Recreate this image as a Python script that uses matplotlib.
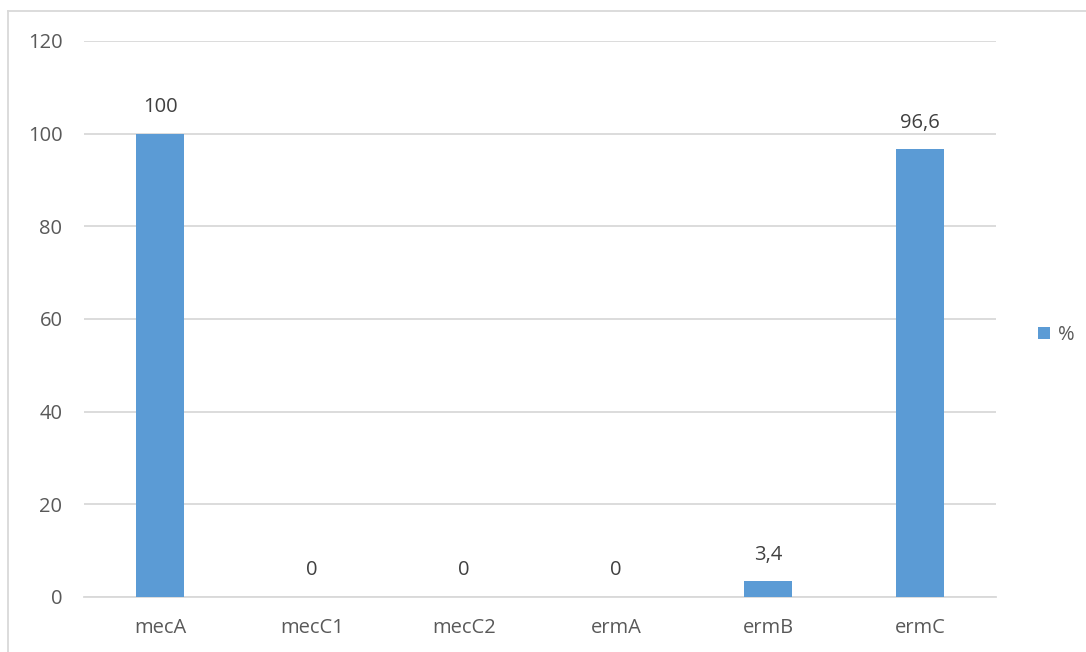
import matplotlib
matplotlib.use("Agg")
import matplotlib.pyplot as plt
from matplotlib.lines import Line2D

# Data
genes = ["mecA", "mecC1", "mecC2", "ermA", "ermB", "ermC"]
percent = [100, 0, 0, 0, 3.4, 96.6]
labels = ["100", "0", "0", "0", "3,4", "96,6"]

bar_color = "#5B9BD5"
text_color = "#595959"
grid_color = "#D9D9D9"

plt.rcParams['font.family'] = ['Open Sans', 'DejaVu Sans']

fig = plt.figure(figsize=(10.86, 6.52), dpi=100)
ax = fig.add_axes([84 / 1086, 1 - 597 / 652, (996 - 84) / 1086, (597 - 41) / 652])

x = range(len(genes))
bars = ax.bar(x, percent, width=0.316, color=bar_color, label="%", zorder=3)

for xi, v, lab in zip(x, percent, labels):
    ax.text(xi, v + 3.6, lab, ha="center", va="bottom", fontsize=14.5, color="#404040")

ax.set_ylim(0, 120)
ax.set_xlim(-0.5, len(genes) - 0.5)
ax.set_yticks(range(0, 121, 20))
ax.set_xticks(list(x))
ax.set_xticklabels(genes)
ax.yaxis.grid(True, color=grid_color, linewidth=1.3, zorder=0)
ax.set_axisbelow(True)
for s in ["top", "right", "left"]:
    ax.spines[s].set_visible(False)
ax.spines["bottom"].set_color(grid_color)
ax.spines["bottom"].set_linewidth(1.3)
ax.tick_params(axis="both", length=0, labelsize=14.5, colors=text_color)
ax.tick_params(axis="y", pad=15.5)
ax.tick_params(axis="x", pad=15)

leg = fig.legend(handles=[bars], labels=["%"], loc="center left",
                 bbox_to_anchor=(1020 / 1086, 1 - 335 / 652), frameon=False,
                 fontsize=14.5, handlelength=0.6, handleheight=0.6,
                 handletextpad=0.4, labelcolor=text_color)

# chart border (left and top visible)
fig.add_artist(Line2D([7.5 / 1086, 7.5 / 1086], [0, 1 - 10.5 / 652], color=grid_color, linewidth=1.3))
fig.add_artist(Line2D([7.5 / 1086, 1], [1 - 10.5 / 652, 1 - 10.5 / 652], color=grid_color, linewidth=1.3))

fig.savefig("out.png", dpi=100)
